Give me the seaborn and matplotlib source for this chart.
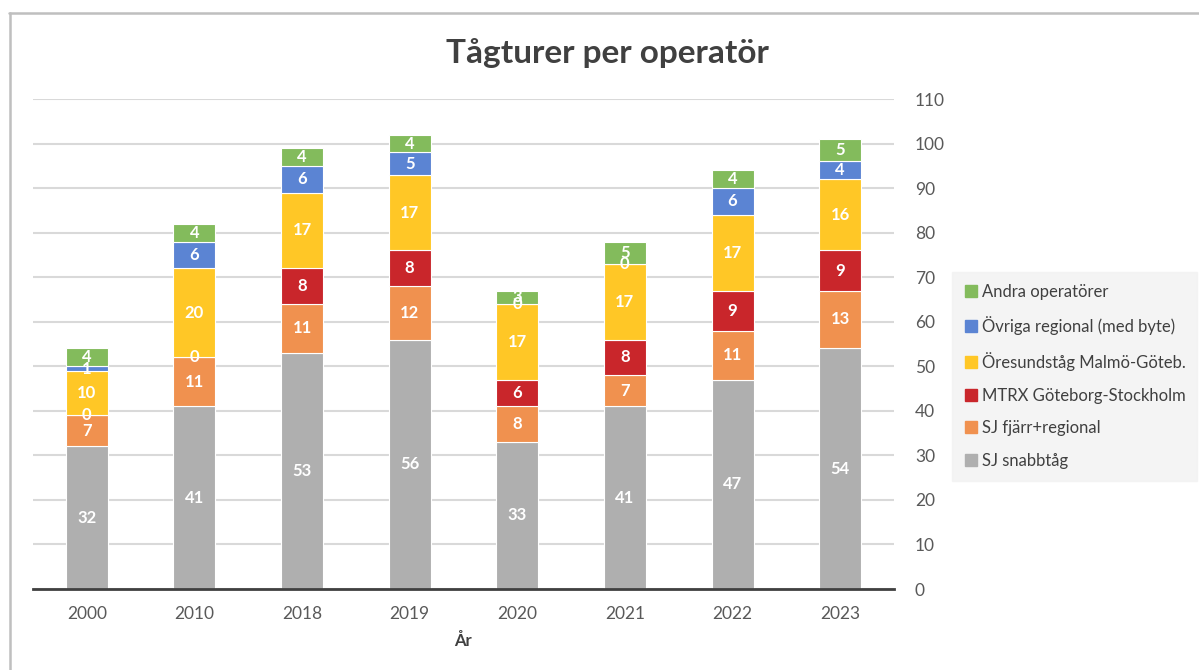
import matplotlib
matplotlib.use("Agg")
import matplotlib.pyplot as plt
import seaborn as sns
import pandas as pd
import numpy as np
from matplotlib.lines import Line2D

years = ["2000", "2010", "2018", "2019", "2020", "2021", "2022", "2023"]
sj_snabb = [32, 41, 53, 56, 33, 41, 47, 54]
sj_fjarr = [7, 11, 11, 12, 8, 7, 11, 13]
mtrx = [0, 0, 8, 8, 6, 8, 9, 9]
oresund = [10, 20, 17, 17, 17, 17, 17, 16]
ovriga = [1, 6, 6, 5, 0, 0, 6, 4]
andra = [4, 4, 4, 4, 3, 5, 4, 5]

series_names = ["SJ snabbtåg", "SJ fjärr+regional", "MTRX Göteborg-Stockholm",
                "Öresundståg Malmö-Göteb.", "Övriga regional (med byte)", "Andra operatörer"]
series_vals = [sj_snabb, sj_fjarr, mtrx, oresund, ovriga, andra]
colors = ["#AFAFAF", "#F0914F", "#C9262B", "#FFC726", "#5B84D3", "#83BB5C"]

sns.set_theme(style="white")
plt.rcParams['font.family'] = ['Lato', 'DejaVu Sans']

fig = plt.figure(figsize=(11.99, 6.70), dpi=100)
ax = fig.add_axes([33/1199, 1-589/670, 861/1199, (589-99)/670])

bottom = np.zeros(len(years))
for name, vals, col in zip(series_names, series_vals, colors):
    df = pd.DataFrame({"year": years, "v": vals})
    sns.barplot(data=df, x="year", y="v", color=col, bottom=bottom, width=0.39,
                ax=ax, edgecolor="#FFFFFF", linewidth=0.8, saturation=1)
    for i, v in enumerate(vals):
        ax.text(i, bottom[i] + v/2, str(v), ha="center", va="center", color="white",
                fontsize=12, fontweight="bold", zorder=5)
    bottom += np.array(vals)

if ax.get_legend() is not None:
    ax.get_legend().remove()

ax.set_xlim(-0.5, 7.5)
ax.set_ylim(0, 110)
ax.set_yticks(range(0, 111, 10))
ax.yaxis.tick_right()
ax.grid(axis="y", color="#D9D9D9", linewidth=1.5)
ax.set_axisbelow(True)
for s in ["top", "left", "right"]:
    ax.spines[s].set_visible(False)
ax.spines["bottom"].set_color("#404040")
ax.spines["bottom"].set_linewidth(2)
ax.tick_params(axis="y", length=0, pad=15, labelsize=12.5, labelcolor="#595959")
ax.tick_params(axis="x", length=0, pad=12, labelsize=12.5, labelcolor="#595959")
ax.set_ylabel("")
ax.set_xlabel("År", fontsize=12, fontweight="bold", color="#404040", labelpad=8)

fig.text(607/1199, 1-53/670, "Tågturer per operatör", ha="center", va="center",
         fontsize=24, fontweight="bold", color="#404040")

handles = [Line2D([0], [0], marker="s", linestyle="none", markersize=8,
                  markerfacecolor=c, markeredgecolor=c) for c in colors]
leg = fig.legend(handles[::-1], series_names[::-1], loc="upper left",
                 bbox_to_anchor=(952/1199, 1-272/670), frameon=True, fontsize=12,
                 labelspacing=1.0, handletextpad=0.2, handlelength=0.9,
                 borderpad=0.7, borderaxespad=0)
leg.get_frame().set_facecolor("#F2F2F2")
leg.get_frame().set_edgecolor("#F2F2F2")
leg.get_frame().set_boxstyle("square", pad=0)
for t in leg.get_texts():
    t.set_color("#404040")

fig.add_artist(Line2D([9/1199, 1], [1-12.5/670, 1-12.5/670], color="#BFBFBF", linewidth=1.8,
                      transform=fig.transFigure))
fig.add_artist(Line2D([9.5/1199, 9.5/1199], [0, 1-12.5/670], color="#BFBFBF", linewidth=1.8,
                      transform=fig.transFigure))

fig.savefig("out.png", dpi=100)
